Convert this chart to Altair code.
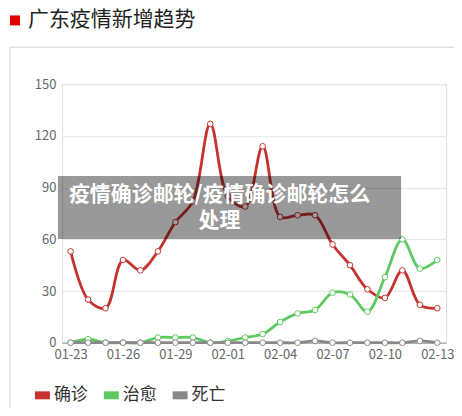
import altair as alt
import pandas as pd

dates = ["01-23", "01-24", "01-25", "01-26", "01-27", "01-28", "01-29", "01-30",
         "01-31", "02-01", "02-02", "02-03", "02-04", "02-05", "02-06", "02-07",
         "02-08", "02-09", "02-10", "02-11", "02-12", "02-13"]
confirmed = [53, 25, 20, 48, 42, 53, 70, 82, 127, 85, 79, 114, 73, 74, 74, 57, 45, 31, 26, 42, 22, 20]
recovered = [0, 2, 0, 0, 0, 3, 3, 3, 0, 1, 3, 5, 12, 17, 19, 29, 28, 18, 38, 60, 43, 48]
deaths = [0, 0, 0, 0, 0, 0, 0, 0, 0, 0, 0, 0, 0, 0, 1, 0, 0, 0, 0, 0, 1, 0]
series = ["确诊", "治愈", "死亡"]
colors = ["#c6322d", "#5ec962", "#888888"]
tick_dates = dates[::3]
y_ticks = [0, 30, 60, 90, 120, 150]
title_text = "广东疫情新增趋势"
watermark = ["疫情确诊邮轮/疫情确诊邮轮怎么", "处理"]

rows = []
for name, vals in zip(series, [confirmed, recovered, deaths]):
    for d, v in zip(dates, vals):
        rows.append({"date": d, "series": name, "value": v, "order": series.index(name)})
df = pd.DataFrame(rows)

FONT = "Noto Sans CJK SC"
W, H = 385, 259

x = alt.X("date:O", sort=dates,
          scale=alt.Scale(type="point", padding=0.5),
          axis=alt.Axis(title=None, values=tick_dates, labelAngle=0, ticks=False,
                        domainColor="#999999", domainWidth=1, labelColor="#666666",
                        labelFontSize=13, labelPadding=6, labelFont=FONT, grid=False))
y = alt.Y("value:Q", scale=alt.Scale(domain=[0, 150], nice=False),
          axis=alt.Axis(title=None, values=y_ticks, ticks=False, domain=False,
                        labelColor="#666666", labelFontSize=13, labelPadding=6,
                        labelFont=FONT, gridColor="#e6e6e6", gridWidth=1))
color = alt.Color("series:N", scale=alt.Scale(domain=series, range=colors),
                  legend=alt.Legend(title=None, orient="none", legendX=-31, legendY=300,
                                    direction="horizontal", symbolType="stroke",
                                    symbolStrokeWidth=8, symbolSize=225,
                                    labelFontSize=17, labelColor="#333333", labelFont=FONT,
                                    labelOffset=0, columnPadding=0))

base = alt.Chart(df)
lines = base.mark_line(interpolate="catmull-rom", strokeWidth=2.8).encode(
    x=x, y=y, color=color, order=alt.Order("order:Q"))
points = base.mark_point(filled=True, fill="white", size=32, strokeWidth=1, opacity=1).encode(
    x=alt.X("date:O", sort=dates), y="value:Q",
    stroke=alt.Stroke("series:N", scale=alt.Scale(domain=series, range=colors), legend=None))

one = pd.DataFrame({"k": [0]})
ann = alt.Chart(one)
border_top = ann.mark_rule(color="#e2e2e2", strokeWidth=1.5).encode(
    x=alt.value(-52), x2=alt.value(395), y=alt.value(-37))
border_left = ann.mark_rule(color="#e2e2e2", strokeWidth=1.5).encode(
    x=alt.value(-52), y=alt.value(-37), y2=alt.value(340))
square = ann.mark_square(color="#e00000", size=100, opacity=1).encode(
    x=alt.value(-47), y=alt.value(-64))
title = ann.mark_text(text=title_text, font=FONT, fontSize=21, color="#222222",
                      align="left", baseline="middle").encode(x=alt.value(-34), y=alt.value(-64))
box = ann.mark_rect(color="black", opacity=0.4).encode(
    x=alt.value(-4), x2=alt.value(340), y=alt.value(92), y2=alt.value(155))
wm1 = ann.mark_text(text=watermark[0], font=FONT, fontSize=21, fontWeight="bold",
                    color="white", align="center", baseline="middle").encode(
    x=alt.value(158), y=alt.value(111))
wm2 = ann.mark_text(text=watermark[1], font=FONT, fontSize=21, fontWeight="bold",
                    color="white", align="center", baseline="middle").encode(
    x=alt.value(158), y=alt.value(137))

chart = alt.layer(border_top, border_left, square, title, lines, points, box, wm1, wm2).properties(
    width=W, height=H,
    autosize=alt.AutoSizeParams(type="none"),
    padding={"left": 54, "top": 76, "right": 8, "bottom": 65},
).configure_view(stroke=None).configure(background="white")

chart.save("out.html", embed_options={"renderer": "svg", "actions": False})
